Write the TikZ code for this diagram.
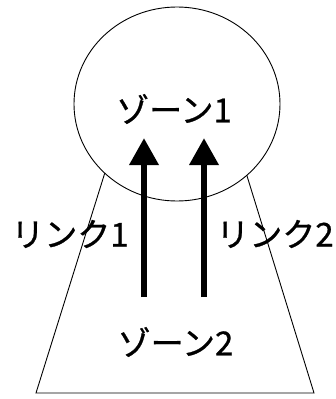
\documentclass[tikz,border=0pt]{standalone}
\usepackage{fontspec}
\newfontfamily\jpfont[FakeBold=0.8]{Noto Sans CJK JP}
\usetikzlibrary{arrows.meta,shapes.geometric}

\begin{document}
\begin{tikzpicture}[
  x=1pt, y=-1pt,
  zonecirc/.style={ellipse, draw=black, line width=0.9pt, fill=white,
    minimum width=206pt, minimum height=194pt, inner sep=0pt},
  zoneline/.style={draw=black, line width=0.9pt, fill=white},
  label/.style={inner sep=0pt, font=\jpfont\fontsize{33pt}{33pt}\selectfont},
  arrow/.style={-{Triangle[width=28pt,length=27pt]}, line width=6.5pt},
]
\useasboundingbox (0,0) rectangle (336,399);

% zone 2 (trapezoid)
\coordinate (tl) at (112,150);
\coordinate (tr) at (239,150);
\coordinate (br) at (314,393);
\coordinate (bl) at (36,393);
\draw[zoneline] (tl) -- (tr) -- (br) -- (bl) -- cycle;

% zone 1 (circle)
\node[zonecirc] (zone1) at (177,104) {};

\node[label] (z1text) at (174,109) {ゾーン1};
\node[label] (z2text) at (175.5,342) {ゾーン2};

% links
\coordinate (l1s) at (144,297);
\coordinate (l1e) at (144,138);
\coordinate (l2s) at (204,297);
\coordinate (l2e) at (204,138);
\draw[arrow] (l1s) -- (l1e);
\draw[arrow] (l2s) -- (l2e);

\node[label] (link1) at (70,234) {リンク1};
\node[label] (link2) at (275,234) {リンク2};

\end{tikzpicture}
\end{document}
